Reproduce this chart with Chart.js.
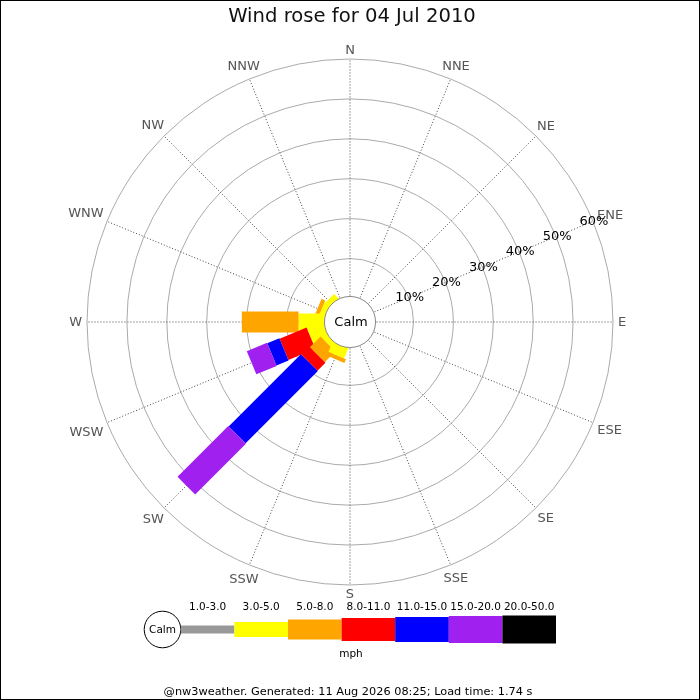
<!DOCTYPE html>
<html>
<head>
<meta charset="utf-8">
<script src="https://cdn.jsdelivr.net/npm/chart.js@4"></script>
<style>
  html, body { margin: 0; padding: 0; background: #fff; }
  #wrap { width: 700px; height: 700px; position: relative; }
</style>
</head>
<body>
<div id="wrap"><canvas id="myChart"></canvas></div>
<script>
const ctx = document.getElementById('myChart');

const directions = ['N', 'NNE', 'NE', 'ENE', 'E', 'ESE', 'SE', 'SSE', 'S', 'SSW', 'SW', 'WSW', 'W', 'WNW', 'NW', 'NNW'];
const speedBins = ['1.0-3.0', '3.0-5.0', '5.0-8.0', '8.0-11.0', '11.0-15.0', '15.0-20.0', '20.0-50.0'];
const ringTicks = [10, 20, 30, 40, 50, 60];

// % of time per direction (N..NNW, clockwise) for each speed bin
const mph1to3   = [0, 0, 0, 0, 0, 0, 0, 0, 0, 0,   0,    0,   0,    0,   0,   0];
const mph3to5   = [0, 0, 0, 0, 0, 0, 0, 0, 0, 3.1, 1.9,  4.7, 7.0,  1.9, 1.9, 0];
const mph5to8   = [0, 0, 0, 0, 0, 0, 0, 0, 0, 1.0, 3.8,  0,   14.2, 1.0, 0,   0];
const mph8to11  = [0, 0, 0, 0, 0, 0, 0, 0, 0, 0,   2.8,  7.3, 0,    0,   0,   0];
const mph11to15 = [0, 0, 0, 0, 0, 0, 0, 0, 0, 0,   25.6, 3.3, 0,    0,   0,   0];
const mph15to20 = [0, 0, 0, 0, 0, 0, 0, 0, 0, 0,   18.0, 5.5, 0,    0,   0,   0];
const mph20to50 = [0, 0, 0, 0, 0, 0, 0, 0, 0, 0,   0,    0,   0,    0,   0,   0];

const speedData = [mph1to3, mph3to5, mph5to8, mph8to11, mph11to15, mph15to20, mph20to50];
const binColors = ['#999999', '#ffff00', '#ffa500', '#ff0000', '#0000ff', '#a020f0', '#000000'];
const barWidths = [8, 17, 21, 23, 24, 25, 26];       // leg thickness in the rose, px
const legendHeights = [8, 15, 20, 23, 25, 27, 28];   // bar heights in the legend, px

const OFFSET = 5.9;   // radius of the calm circle, in % units
const MAXR = OFFSET + ringTicks[ringTicks.length - 1];

// legs are painted starting at E and going anticlockwise, later ones on top
const drawOrder = [4, 3, 2, 1, 0, 15, 14, 13, 12, 11, 10, 9, 8, 7, 6, 5];

const datasets = [];
drawOrder.forEach(d => {
    const a = d * Math.PI / 8;
    let r = OFFSET;
    speedData.forEach((vals, b) => {
        const v = vals[d];
        if (v > 0) {
            datasets.push({
                label: directions[d] + ' ' + speedBins[b],
                data: [
                    { x: r * Math.sin(a), y: r * Math.cos(a) },
                    { x: (r + v) * Math.sin(a), y: (r + v) * Math.cos(a) }
                ],
                showLine: true,
                borderColor: binColors[b],
                borderWidth: barWidths[b],
                borderCapStyle: 'butt',
                pointRadius: 0,
                order: 1000 - datasets.length
            });
        }
        r += v;
    });
});

const roseDecor = {
    id: 'roseDecor',
    beforeDatasetsDraw(chart) {
        const c = chart.ctx;
        const { x, y } = chart.scales;
        const cx = x.getPixelForValue(0), cy = y.getPixelForValue(0);
        const px = v => x.getPixelForValue(v) - cx;
        c.save();
        // rings
        c.strokeStyle = '#aaaaaa';
        c.lineWidth = 1;
        ringTicks.forEach(t => {
            c.beginPath();
            c.arc(cx, cy, px(OFFSET + t), 0, 2 * Math.PI);
            c.stroke();
        });
        // spokes
        c.strokeStyle = '#444';
        c.setLineDash([1, 2]);
        const r0 = px(OFFSET), r1 = px(MAXR);
        directions.forEach((d, i) => {
            const a = i * Math.PI / 8;
            c.beginPath();
            c.moveTo(cx + r0 * Math.sin(a), cy - r0 * Math.cos(a));
            c.lineTo(cx + r1 * Math.sin(a), cy - r1 * Math.cos(a));
            c.stroke();
        });
        c.setLineDash([]);
        // compass labels
        c.font = '13px "DejaVu Sans"';
        c.fillStyle = '#555';
        c.textAlign = 'center';
        c.textBaseline = 'middle';
        directions.forEach((d, i) => {
            const a = i * Math.PI / 8;
            const w = c.measureText(d).width;
            const rl = r1 + 5 + Math.abs(Math.sin(a)) * w / 2 + Math.abs(Math.cos(a)) * 4;
            c.fillText(d, cx + rl * Math.sin(a), cy - rl * Math.cos(a) + 1);
        });
        // ring labels along ENE
        c.fillStyle = '#000';
        const la = 3 * Math.PI / 8;
        ringTicks.forEach(t => {
            const rr = px(OFFSET + t);
            c.fillText(t + '%', cx + rr * Math.sin(la) + 1, cy - rr * Math.cos(la));
        });
        c.restore();
    },
    afterDatasetsDraw(chart) {
        const c = chart.ctx;
        const { x, y } = chart.scales;
        const cx = x.getPixelForValue(0), cy = y.getPixelForValue(0);
        const rc = x.getPixelForValue(OFFSET) - cx + 2;
        c.save();
        c.beginPath();
        c.arc(cx, cy, rc, 0, 2 * Math.PI);
        c.fillStyle = '#fff';
        c.fill();
        c.strokeStyle = '#888';
        c.lineWidth = 1;
        c.stroke();
        c.fillStyle = '#000';
        c.font = '13px "DejaVu Sans"';
        c.textAlign = 'center';
        c.textBaseline = 'middle';
        c.fillText('Calm', cx + 1, cy + 1);

        // title
        c.font = '19.6px "DejaVu Sans"';
        c.fillStyle = '#111';
        c.fillText('Wind rose for 04 Jul 2010', 352, 17);

        // legend
        const ly = 629.5;
        c.beginPath();
        c.arc(162.5, ly, 18.3, 0, 2 * Math.PI);
        c.fillStyle = '#fff';
        c.fill();
        c.strokeStyle = '#000';
        c.stroke();
        c.fillStyle = '#000';
        c.font = '10.5px "DejaVu Sans"';
        c.fillText('Calm', 162.5, ly + 1);
        const segW = 53.6;
        speedBins.forEach((lab, b) => {
            const x0 = 180.8 + b * segW;
            const h = legendHeights[b];
            c.fillStyle = binColors[b];
            c.fillRect(x0, ly - h / 2, segW, h);
            c.fillStyle = '#000';
            c.fillText(lab, x0 + segW / 2, 607);
        });
        c.fillText('mph', 351, 654);

        // footer
        c.font = '11.3px "DejaVu Sans"';
        c.fillText('@nw3weather. Generated: 11 Aug 2026 08:25; Load time: 1.74 s', 348, 692);

        // frame
        c.strokeStyle = '#000';
        c.lineWidth = 1;
        c.strokeRect(0.5, 0.5, 699, 699);
        c.restore();
    }
};

new Chart(ctx, {
    type: 'scatter',
    data: { datasets: datasets },
    options: {
        responsive: true,
        maintainAspectRatio: false,
        animation: false,
        layout: { padding: { left: 87, right: 87, top: 59, bottom: 115 } },
        scales: {
            x: { display: false, min: -MAXR, max: MAXR },
            y: { display: false, min: -MAXR, max: MAXR }
        },
        plugins: {
            legend: { display: false },
            tooltip: { enabled: false },
            title: { display: false }
        }
    },
    plugins: [roseDecor]
});
</script>
</body>
</html>
